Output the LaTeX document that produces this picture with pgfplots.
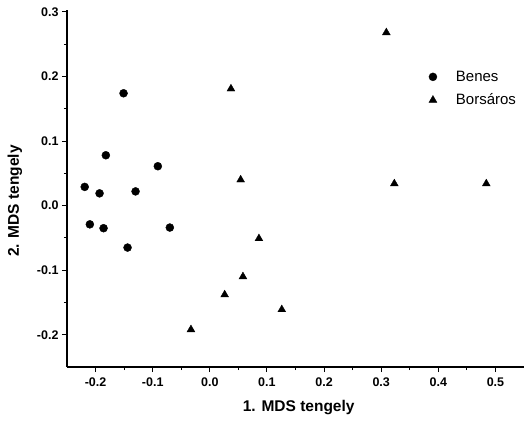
\documentclass[border=0pt]{standalone}
\usepackage{pgfplots}
\pgfplotsset{compat=1.18}
\usepackage{fontspec}
\setmainfont{Liberation Sans}

\begin{document}
\begin{tikzpicture}
\path[use as bounding box] (-67pt,-53pt) rectangle (457pt,367pt);
\begin{axis}[
    scale only axis,
    width=457pt, height=357pt,
    at={(0,0)}, anchor=south west,
    xmin=-0.25, xmax=0.55,
    ymin=-0.25, ymax=0.303,
    axis lines=left,
    axis line style={-, line width=1.2pt},
    tick align=outside,
    tick style={black, line width=1pt},
    major tick length=5pt,
    minor tick length=3pt,
    xtick={-0.2,-0.1,0,0.1,0.2,0.3,0.4,0.5},
    ytick={-0.2,-0.1,0,0.1,0.2,0.3},
    minor x tick num=1,
    minor y tick num=1,
    /pgf/number format/assume math mode=true,
    /pgf/number format/fixed,
    /pgf/number format/fixed zerofill,
    /pgf/number format/precision=1,
    ticklabel style={font=\fontsize{12.5}{14}\selectfont\bfseries},
    xticklabel style={yshift=-2pt},
    xlabel={1. MDS tengely},
    ylabel={2. MDS tengely},
    label style={font=\fontsize{15.5}{18}\selectfont\bfseries},
    xlabel style={at={(axis description cs:0.507,0)}, anchor=center, yshift=-41pt},
    ylabel style={at={(axis description cs:0,0.465)}, anchor=center, yshift=52pt},
    legend style={draw=none, fill=none, at={(0.785,0.841)}, anchor=north west,
        font=\fontsize{15}{18}\selectfont, row sep=7pt,
        /tikz/every odd column/.append style={column sep=17pt}},
    legend cell align=left,
]
\addplot[only marks, mark=*, mark size=4pt, black] coordinates {
    (-0.151,0.174) (-0.219,0.029) (-0.193,0.019) (-0.182,0.078)
    (-0.130,0.022) (-0.091,0.061) (-0.210,-0.029) (-0.186,-0.035)
    (-0.144,-0.065) (-0.070,-0.034)
};
\addlegendentry{Benes}
\addplot[only marks, mark=triangle*, mark size=4.5pt, black] coordinates {
    (0.037,0.181) (0.054,0.040) (0.309,0.268) (0.323,0.034)
    (0.484,0.034) (-0.033,-0.192) (0.026,-0.138) (0.058,-0.110)
    (0.086,-0.051) (0.126,-0.161)
};
\addlegendentry{Borsáros}
\end{axis}
\end{tikzpicture}
\end{document}
